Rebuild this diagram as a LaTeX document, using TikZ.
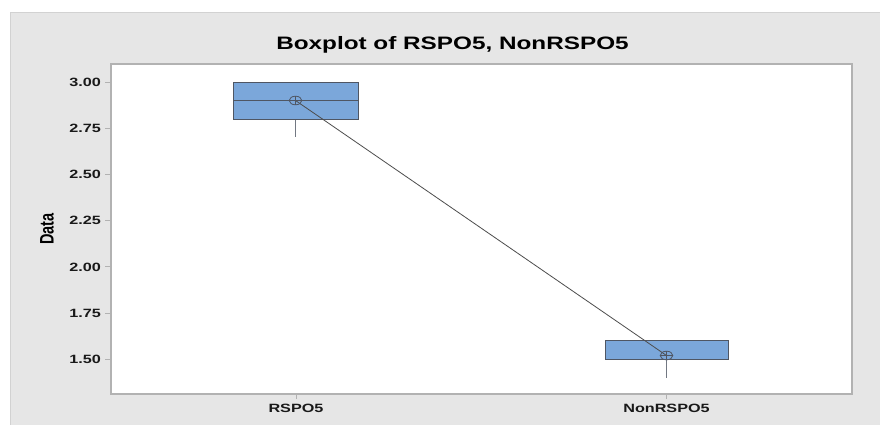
\documentclass[tikz,border=0pt]{standalone}
\usepackage{fontspec}
\setmainfont{Liberation Sans}
\usepackage{graphicx}
\definecolor{panel}{HTML}{E6E6E6}
\definecolor{paneledge}{HTML}{D2D2D2}
\definecolor{frame}{HTML}{B2B2B2}
\definecolor{boxfill}{HTML}{7BA7DA}
\definecolor{boxedge}{HTML}{4F5663}
\definecolor{meanline}{HTML}{4D4D4D}
\tikzset{
  boxstyle/.style={fill=boxfill,draw=boxedge,line width=0.9pt},
  whisk/.style={draw=boxedge!80,line width=0.9pt},
  tickmark/.style={draw=frame,line width=0.8pt},
  ticklab/.style={font=\fontsize{12}{14}\selectfont\bfseries,text=black!90,inner sep=0pt},
  meanmark/.style={draw=boxedge,line width=0.8pt},
}
\newcommand{\sx}[1]{\scalebox{1.35}[1]{#1}}
\begin{document}
\begin{tikzpicture}[x=1pt,y=-1pt]
\useasboundingbox (0,0) rectangle (880,424);
% outer panel
\fill[white] (0,0) rectangle (880,424);
\filldraw[fill=panel,draw=paneledge,line width=1pt] (10,12) rectangle (882,426);
% plot area
\filldraw[fill=white,draw=frame,line width=1.1pt] (111,64) rectangle (852,394);
% title
\node[anchor=base,inner sep=0pt,font=\fontsize{18}{20}\selectfont\bfseries] (title) at (452.5,49) {\sx{Boxplot of RSPO5, NonRSPO5}};
% y axis label
\node[inner sep=0pt,font=\fontsize{14.5}{16}\selectfont\bfseries] (ylab) at (47,229) {\sx{\rotatebox{90}{Data}}};
% y ticks
\foreach \v/\yy in {3.00/82,2.75/128.2,2.50/174.4,2.25/220.6,2.00/266.8,1.75/313,1.50/359.2}{
  \draw[tickmark] (105,\yy) -- (111,\yy);
  \node[ticklab,anchor=base east] at (101,\yy+4.3) {\sx{\v}};
}
% x ticks
\draw[tickmark] (296,394) -- (296,399);
\draw[tickmark] (666.5,394) -- (666.5,399);
\node[ticklab,anchor=base] (l1) at (296,412.7) {\sx{RSPO5}};
\node[ticklab,anchor=base] (l2) at (666.5,412.7) {\sx{NonRSPO5}};
% RSPO5 box
\draw[whisk] (295.5,119) -- (295.5,137.4);
\draw[boxstyle] (233,82) rectangle (358,119);
\draw[draw=boxedge,line width=0.9pt] (233,100.5) -- (358,100.5);
% NonRSPO5 box
\draw[whisk] (666.5,359.2) -- (666.5,377.7);
\draw[boxstyle] (605,340.7) rectangle (728,359.2);
% means
\coordinate (m1) at (295.5,100.5);
\coordinate (m2) at (666.5,355.5);
\draw[draw=meanline,line width=0.8pt] (m1) -- (m2);
\foreach \m in {m1,m2}{
  \draw[meanmark] (\m) ellipse [x radius=6.3,y radius=4.3];
  \draw[meanmark] ([xshift=-6.3pt]\m) -- ([xshift=6.3pt]\m);
  \draw[meanmark] ([yshift=-4.3pt]\m) -- ([yshift=4.3pt]\m);
}
\end{tikzpicture}
\end{document}
